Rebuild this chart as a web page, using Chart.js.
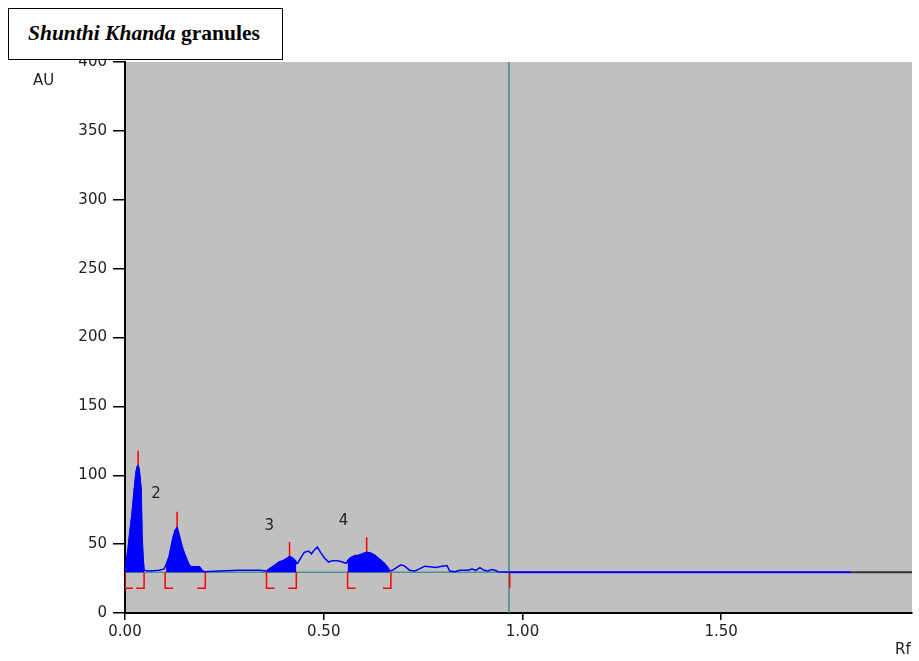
<!DOCTYPE html>
<html>
<head>
<meta charset="utf-8">
<script src="https://cdn.jsdelivr.net/npm/chart.js@4.4.1/dist/chart.umd.min.js"></script>
<style>
  html, body { margin: 0; padding: 0; background: #fff; }
  #wrap { position: relative; width: 919px; height: 661px; }
  #titleBox {
    position: absolute; left: 8px; top: 8px; width: 275px; height: 52px;
    box-sizing: border-box; border: 1.5px solid #000; background: #fff;
    font-family: "Liberation Serif", "Times New Roman", serif; font-size: 21.5px; font-weight: bold;
    padding-left: 19px; line-height: 49px; color: #000;
  }
</style>
</head>
<body>
<div id="wrap">
  <canvas id="densito" width="919" height="661"></canvas>
  <div id="titleBox"><i>Shunthi Khanda</i> granules</div>
</div>
<script>
// densitogram trace (Rf, AU)
var rfValues = [0.000,0.0025,0.005,0.0076,0.0101,0.0126,0.0151,0.0177,0.0202,0.0227,0.0252,0.0277,0.0303,0.0328,0.0353,0.0378,0.0404,0.0429,0.0454,0.0479,
  0.0605,0.0858,0.0984,0.1034,0.111,0.116,0.121,0.126,0.131,0.136,0.141,0.146,0.151,0.156,0.161,0.166,0.177,0.187,0.194,0.199,
  0.237,0.288,0.338,0.356,0.358,0.368,0.378,0.388,0.398,0.409,0.414,0.421,0.429,0.431,
  0.434,0.444,0.451,0.462,0.469,0.477,0.484,0.492,0.502,0.512,0.522,0.535,0.547,0.557,
  0.560,0.567,0.578,0.588,0.598,0.608,0.618,0.628,0.636,0.643,0.653,0.661,0.666,
  0.673,0.683,0.694,0.704,0.716,0.729,0.741,0.754,0.767,0.782,0.797,0.810,0.817,0.830,0.842,0.863,0.873,0.883,0.893,0.903,0.913,0.923,0.931,0.938,0.966,1.826];
var auValues = [35,36,41,46,53,60,66,72,80,88,95,102,106,107,105,98,90,55,40,31,
  30.5,31,32,35,41,48,55,60,62,57,51,46,42,38.5,35,33.5,33.5,33.5,31,30,
  30.5,31,31,30.5,31,33,35,37,38,40,41,40,38,36,
  36,41,44,45,43,46,48,44,40,37,38,38,37,36,
  38,40,41.5,42,43,44,43.5,42,40,38.5,36,33,30.5,
  31,33,35,34,31,30.5,32,34,33.5,33,34,34.5,30.5,30,31,31,32,31,33,31,30.5,31.5,31,30,29.5,29.5];

// integrated peaks
var peakStart = [0.000, 0.101, 0.356, 0.560];
var peakEnd   = [0.048, 0.202, 0.431, 0.669];
var peakMaxRf = [0.033, 0.131, 0.414, 0.608];
var peakMarkTop = [118, 73.5, 51.6, 55];
var peakLabels = ['2', '3', '4'];
var peakLabelRf = [0.078, 0.363, 0.55];
var peakLabelAu = [86, 63, 67];

var baseline = 29.5;
var bracketLow = 18;
var frontRf = 0.966;
var xTicks = [0, 0.5, 1.0, 1.5];
var yTicks = [0, 50, 100, 150, 200, 250, 300, 350, 400];

var trace = rfValues.map(function(r, i) { return {x: r, y: auValues[i]}; });

var datasets = [];
for (var p = 0; p < peakStart.length; p++) {
  var pts = trace.filter(function(pt) { return pt.x >= peakStart[p] - 1e-6 && pt.x <= peakEnd[p] + 1e-6; });
  datasets.push({
    data: pts, borderColor: '#0000ff', backgroundColor: '#0000ff', borderWidth: 1,
    fill: {value: baseline}, pointRadius: 0, tension: 0, order: 1
  });
}

datasets.push({
  data: trace, borderColor: '#0000ff', borderWidth: 1.5, fill: false,
  pointRadius: 0, tension: 0, order: 2
});
// flat part after the solvent front is drawn a bit heavier
datasets.push({
  data: trace.filter(function(pt) { return pt.x >= frontRf; }),
  borderColor: '#1a1aff', borderWidth: 2, fill: false, pointRadius: 0, order: 2
});

var markers = [];
peakMaxRf.forEach(function(r, i) {
  markers.push({x: r, y: baseline}, {x: r, y: peakMarkTop[i]}, {x: r, y: null});
});
markers.push({x: frontRf + 0.002, y: baseline}, {x: frontRf + 0.002, y: bracketLow}, {x: frontRf, y: null});
datasets.push({
  data: markers, borderColor: '#ff0000', borderWidth: 1.5, fill: false,
  pointRadius: 0, spanGaps: false, order: 3
});

var brackets = [];
peakStart.forEach(function(s, i) {
  var e = peakEnd[i];
  brackets.push({x: s + 0.02, y: bracketLow}, {x: s, y: bracketLow}, {x: s, y: baseline}, {x: s, y: null});
  brackets.push({x: e - 0.02, y: bracketLow}, {x: e, y: bracketLow}, {x: e, y: baseline}, {x: e, y: null});
});
datasets.push({
  data: brackets, borderColor: '#ff0000', borderWidth: 1.5, fill: false,
  pointRadius: 0, spanGaps: false, order: 3
});

datasets.push({
  data: [{x: 0, y: baseline}, {x: frontRf, y: baseline}],
  borderColor: '#4a9490', borderWidth: 1.5, pointRadius: 0, fill: false, order: 5
});
datasets.push({
  data: [{x: frontRf, y: 0}, {x: frontRf, y: 400}],
  borderColor: '#3f8a84', borderWidth: 1.5, pointRadius: 0, fill: false, order: 4
});
datasets.push({
  data: [{x: rfValues[rfValues.length - 1], y: baseline}, {x: 1.98, y: baseline}],
  borderColor: '#333333', borderWidth: 2, pointRadius: 0, fill: false, order: 4
});

var plotBackground = {
  id: 'plotBackground',
  beforeDraw: function(chart) {
    var a = chart.chartArea, ctx = chart.ctx;
    ctx.save();
    ctx.fillStyle = '#c0c0c0';
    ctx.fillRect(a.left, a.top, a.right - a.left, a.bottom - a.top);
    ctx.restore();
  }
};

var labelFont = '15px "DejaVu Sans", sans-serif';

var textLabels = {
  id: 'textLabels',
  afterDraw: function(chart) {
    var ctx = chart.ctx, xs = chart.scales.x, ys = chart.scales.y;
    ctx.save();
    ctx.fillStyle = '#222';
    ctx.font = labelFont;
    ctx.textAlign = 'center';
    ctx.textBaseline = 'middle';
    peakLabels.forEach(function(t, i) {
      ctx.fillText(t, xs.getPixelForValue(peakLabelRf[i]), ys.getPixelForValue(peakLabelAu[i]));
    });
    ctx.textAlign = 'left';
    ctx.fillText('AU', 33, 81);
    ctx.fillText('Rf', 895, 650);
    ctx.restore();
  }
};

var tickFont = {family: '"DejaVu Sans", sans-serif', size: 15};

new Chart(document.getElementById('densito').getContext('2d'), {
  type: 'line',
  data: {datasets: datasets},
  options: {
    responsive: false,
    animation: false,
    devicePixelRatio: 1,
    layout: {padding: {top: 62, right: 7, left: 0, bottom: 0}},
    plugins: {legend: {display: false}, tooltip: {enabled: false}},
    scales: {
      x: {
        type: 'linear', min: 0, max: 1.98,
        afterBuildTicks: function(s) { s.ticks = xTicks.map(function(v) { return {value: v}; }); },
        afterFit: function(s) { s.height = 48; },
        ticks: {
          font: tickFont, color: '#222', padding: 3, maxRotation: 0, autoSkip: false,
          callback: function(v) { return v.toFixed(2); }
        },
        grid: {drawOnChartArea: false, tickLength: 7, color: '#000', lineWidth: 1.5},
        border: {color: '#000', width: 2}
      },
      y: {
        min: 0, max: 400,
        afterBuildTicks: function(s) { s.ticks = yTicks.map(function(v) { return {value: v}; }); },
        afterFit: function(s) { s.width = 125; },
        ticks: {font: tickFont, color: '#222', padding: 6, autoSkip: false},
        grid: {drawOnChartArea: false, tickLength: 12, color: '#000', lineWidth: 1.5},
        border: {color: '#000', width: 2}
      }
    }
  },
  plugins: [plotBackground, textLabels]
});
</script>
</body>
</html>
